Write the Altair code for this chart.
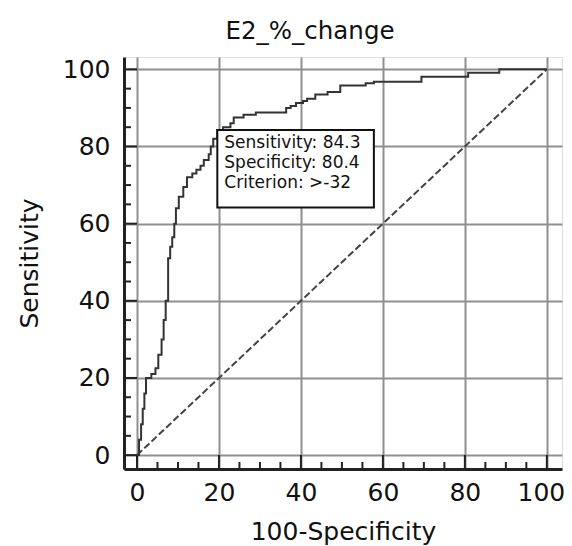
import altair as alt
import pandas as pd

# ROC curve vertices (100-Specificity, Sensitivity), drawn as a staircase
roc_x = [0, 0.5, 1.0, 1.4, 1.8, 2.2, 3.5, 4.5, 5.2, 6.0, 6.5, 7.0, 7.6, 8.1, 8.6, 9.1,
         9.5, 10.2, 11.3, 12.2, 13.5, 14.5, 15.5, 16.3, 17.5, 18.0, 18.6, 19.6, 21.0,
         22.8, 23.6, 26.0, 29.0, 36.4, 37.5, 38.8, 40.5, 41.5, 43.5, 46.5, 49.6, 55.8,
         57.8, 69.4, 80.8, 88.4, 100]
roc_y = [0, 4, 8, 12, 16, 20, 21, 22.5, 26, 30, 35, 40, 51, 54, 56.5, 60,
         64, 67, 69.5, 72, 73, 74, 75, 76.5, 78, 80, 82, 84.3, 85,
         86, 87.5, 88.2, 88.8, 90, 90.5, 91.3, 91.8, 92.4, 93.5, 94.1, 95.8, 96.4,
         96.8, 98.1, 99.1, 100, 100]

diag_x = [0, 100]
diag_y = [0, 100]

major_ticks = [0, 20, 40, 60, 80, 100]
minor_ticks = [5, 10, 15, 25, 30, 35, 45, 50, 55, 65, 70, 75, 85, 90, 95]

sens = 84.3
spec = 80.4
criterion = ">-32"
box_far_x = 57.8
box_far_y = 64.2

FONT = "DejaVu Sans"
W, H = 438, 412

xscale = alt.Scale(domain=[-3.17, 103.7], nice=False, zero=False)
yscale = alt.Scale(domain=[-3.6, 103.2], nice=False, zero=False)

roc_df = pd.DataFrame({"x": roc_x, "y": roc_y, "i": range(len(roc_x))})
diag_df = pd.DataFrame({"x": diag_x, "y": diag_y})
major_df = pd.DataFrame({"v": major_ticks})
minor_df = pd.DataFrame({"v": minor_ticks})

xaxis = alt.Axis(values=major_ticks, ticks=False, grid=True, gridColor="#8f8f8f",
                 gridWidth=2, domainColor="#222222", domainWidth=3,
                 labelFont=FONT, labelFontSize=25, labelColor="#111111",
                 labelPadding=11,
                 labelOffset={"condition": {"test": "datum.value == 100", "value": -6},
                              "value": 0},
                 title="100-Specificity", titleFont=FONT,
                 titleFontSize=25, titleFontWeight="normal", titleColor="#111111",
                 titlePadding=14)
yaxis = alt.Axis(values=major_ticks, ticks=False, grid=True, gridColor="#8f8f8f",
                 gridWidth=2, domainColor="#222222", domainWidth=3,
                 labelFont=FONT, labelFontSize=25, labelColor="#111111",
                 labelPadding=14, title="Sensitivity", titleFont=FONT,
                 titleFontSize=25, titleFontWeight="normal", titleColor="#111111",
                 titlePadding=20)

roc = alt.Chart(roc_df).mark_line(interpolate="step-after", color="#333333",
                                   strokeWidth=2).encode(
    x=alt.X("x:Q", scale=xscale, axis=xaxis),
    y=alt.Y("y:Q", scale=yscale, axis=yaxis),
    order="i:Q",
)

diag = alt.Chart(diag_df).mark_line(color="#444444", strokeWidth=2,
                                    strokeDash=[7, 3]).encode(
    x=alt.X("x:Q", scale=xscale),
    y=alt.Y("y:Q", scale=yscale),
)

xmajor = alt.Chart(major_df).mark_rule(color="#222222", strokeWidth=2).encode(
    x=alt.X("v:Q", scale=xscale), y=alt.value(H), y2=alt.value(H - 14))
xminor = alt.Chart(minor_df).mark_rule(color="#222222", strokeWidth=2).encode(
    x=alt.X("v:Q", scale=xscale), y=alt.value(H), y2=alt.value(H - 7))
ymajor = alt.Chart(major_df).mark_rule(color="#222222", strokeWidth=2).encode(
    y=alt.Y("v:Q", scale=yscale), x=alt.value(0), x2=alt.value(13))
yminor = alt.Chart(minor_df).mark_rule(color="#222222", strokeWidth=2).encode(
    y=alt.Y("v:Q", scale=yscale), x=alt.value(0), x2=alt.value(7))

pt_x = round(100 - spec, 1)
box = alt.Chart(pd.DataFrame({"a": [0]})).mark_rect(
    fill="white", stroke="#111111", strokeWidth=2).encode(
    x=alt.datum(pt_x, scale=xscale), x2=alt.datum(box_far_x),
    y=alt.datum(sens, scale=yscale), y2=alt.datum(box_far_y))

label = alt.Chart(pd.DataFrame({"a": [0]})).mark_text(
    align="left", baseline="top", dx=7, dy=5, lineHeight=20,
    font=FONT, fontSize=17, color="#111111").encode(
    x=alt.datum(pt_x, scale=xscale), y=alt.datum(sens, scale=yscale),
    text=alt.value([f"Sensitivity: {sens}", f"Specificity: {spec}",
                    f"Criterion: {criterion}"]))

chart = alt.layer(xmajor, xminor, ymajor, yminor, diag, roc, box, label).properties(
    width=W, height=H,
    title=alt.TitleParams("E2_%_change", font=FONT, fontSize=24.5,
                          fontWeight="normal", color="#111111", anchor="middle",
                          dx=-33, offset=13),
    autosize=alt.AutoSizeParams(type="none"),
    padding={"left": 116, "top": 49, "right": 2, "bottom": 78},
).configure_view(stroke=None).configure(background="white")

chart.save("out.html", embed_options={"renderer": "svg", "actions": False})
